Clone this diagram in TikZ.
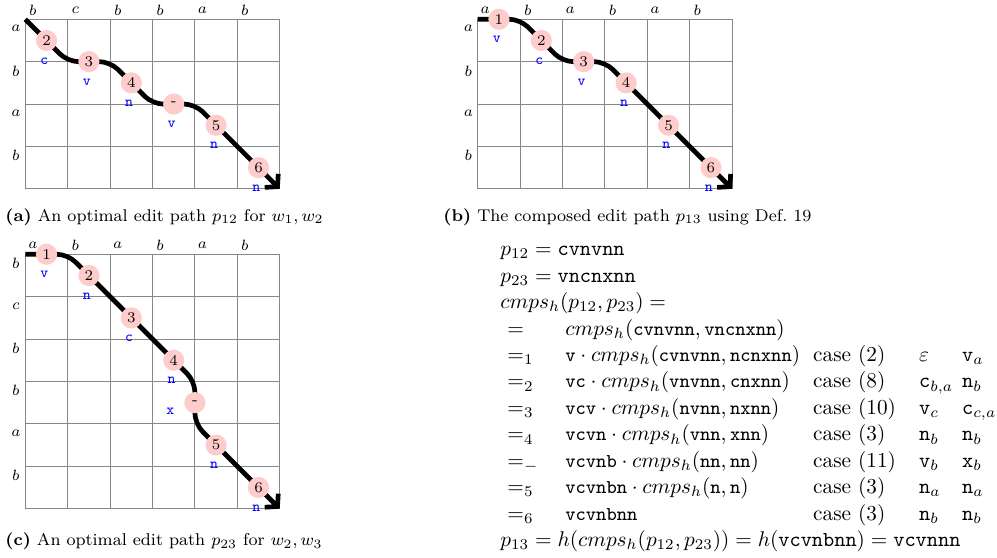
\documentclass[tikz,border=0pt]{standalone}
\usepackage{amsmath}
\usepackage{array}
\usepackage{xcolor}
\usetikzlibrary{arrows.meta, calc, positioning}
\definecolor{StepPink}{RGB}{255,204,204}
\definecolor{GridGray}{RGB}{135,135,135}
\definecolor{OpBlue}{RGB}{0,0,255}
\newcolumntype{M}[1]{>{$}p{#1}<{$}}
\newcolumntype{L}{>{$}l<{$}}
\newcommand{\cmpsh}{cmps_h}
\newcommand{\pth}[1]{\text{\fontsize{9.2}{11}\selectfont\ttfamily #1}}

\begin{document}
\begin{tikzpicture}[
    gridline/.style={GridGray, line width=0.5pt},
    axislbl/.style={font=\fontsize{7}{8}\selectfont, inner sep=0pt},
    editpath/.style={line width=2.2pt, rounded corners=5pt,
                     -{Straight Barb[length=4pt, width=9pt]}},
    stepnum/.style={circle, fill=StepPink, minimum size=0.35cm, inner sep=0pt,
                    font=\fontsize{7}{8}\selectfont},
    opname/.style={OpBlue, font=\fontsize{7}{8}\selectfont\ttfamily, inner sep=0pt},
    capt/.style={anchor=base west, inner sep=0pt, font=\fontsize{8}{9.5}\selectfont}
  ]
  \useasboundingbox (0,0) rectangle (16.46,9.212);

  % (a) edit path p12
  \begin{scope}[shift={(0.418,8.894)}, x=0.7cm, y=-0.7cm]
    \foreach \i in {0,...,6} \draw[gridline] (\i,0) -- (\i,4);
    \foreach \j in {0,...,4} \draw[gridline] (0,\j) -- (6,\j);
    \foreach \c [count=\i from 0] in {b,c,b,b,a,b}
      \node[axislbl] (a-col\i) at (\i+0.18,-0.22) {$\c$};
    \foreach \r [count=\j from 0] in {a,b,a,b}
      \node[axislbl] (a-row\j) at (-0.22,\j+0.22) {$\r$};
    \foreach \x/\y [count=\k from 0] in {0/0,1/1,2/1,3/2,4/2,5/3,6/4}
      \coordinate (a\k) at (\x,\y);
    \draw[editpath] (a0) -- (a1) -- (a2) -- (a3) -- (a4) -- (a5) -- (a6);
    \foreach \p/\q/\num/\op in {0/1/2/c, 1/2/3/v, 2/3/4/n, 3/4/-/v, 4/5/5/n, 5/6/6/n}
      \node[stepnum] (a-s\q) at ($(a\p)!0.5!(a\q)$) {\num}
        node[opname] (a-o\q) at ($(a\p)!0.5!(a\q)+(-0.05,0.48)$) {\op};
  \end{scope}

  % (b) composed path p13
  \begin{scope}[shift={(7.887,8.894)}, x=0.7cm, y=-0.7cm]
    \foreach \i in {0,...,6} \draw[gridline] (\i,0) -- (\i,4);
    \foreach \j in {0,...,4} \draw[gridline] (0,\j) -- (6,\j);
    \foreach \c [count=\i from 0] in {a,b,a,b,a,b}
      \node[axislbl] (b-col\i) at (\i+0.18,-0.22) {$\c$};
    \foreach \r [count=\j from 0] in {a,b,a,b}
      \node[axislbl] (b-row\j) at (-0.22,\j+0.22) {$\r$};
    \foreach \x/\y [count=\k from 0] in {0/0,1/0,2/1,3/1,4/2,5/3,6/4}
      \coordinate (b\k) at (\x,\y);
    \draw[editpath] (b0) -- (b1) -- (b2) -- (b3) -- (b4) -- (b5) -- (b6);
    \foreach \p/\q/\num/\op in {0/1/1/v, 1/2/2/c, 2/3/3/v, 3/4/4/n, 4/5/5/n, 5/6/6/n}
      \node[stepnum] (b-s\q) at ($(b\p)!0.5!(b\q)$) {\num}
        node[opname] (b-o\q) at ($(b\p)!0.5!(b\q)+(-0.05,0.48)$) {\op};
  \end{scope}

  % (c) edit path p23
  \begin{scope}[shift={(0.418,5.014)}, x=0.7cm, y=-0.7cm]
    \foreach \i in {0,...,6} \draw[gridline] (\i,0) -- (\i,6);
    \foreach \j in {0,...,6} \draw[gridline] (0,\j) -- (6,\j);
    \foreach \c [count=\i from 0] in {a,b,a,b,a,b}
      \node[axislbl] (c-col\i) at (\i+0.18,-0.22) {$\c$};
    \foreach \r [count=\j from 0] in {b,c,b,b,a,b}
      \node[axislbl] (c-row\j) at (-0.22,\j+0.22) {$\r$};
    \foreach \x/\y [count=\k from 0] in {0/0,1/0,2/1,3/2,4/3,4/4,5/5,6/6}
      \coordinate (c\k) at (\x,\y);
    \draw[editpath] (c0) -- (c1) -- (c2) -- (c3) -- (c4) -- (c5) -- (c6) -- (c7);
    \foreach \p/\q/\num/\op in {0/1/1/v, 1/2/2/n, 2/3/3/c, 3/4/4/n, 5/6/5/n, 6/7/6/n}
      \node[stepnum] (c-s\q) at ($(c\p)!0.5!(c\q)$) {\num}
        node[opname] (c-o\q) at ($(c\p)!0.5!(c\q)+(-0.05,0.48)$) {\op};
    % deletion step is vertical
    \node[stepnum] (c-s5) at ($(c4)!0.5!(c5)$) {-}
      node[opname] (c-o5) at ($(c4)!0.5!(c5)+(-0.58,0.2)$) {x};
  \end{scope}

  \node[capt] (cap-a) at (0.083,5.56)
    {\textbf{(a)} An optimal edit path $p_{12}$ for $w_1, w_2$};
  \node[capt] (cap-b) at (7.314,5.56)
    {\textbf{(b)} The composed edit path $p_{13}$ using Def.~19};
  \node[capt] (cap-c) at (0.083,0.2)
    {\textbf{(c)} An optimal edit path $p_{23}$ for $w_2, w_3$};

  % composition steps
  \node[anchor=base west, inner sep=0pt] (cmps) at (8.255,4.99) {%
    \renewcommand{\arraystretch}{1.035}%
    \begin{tabular}[t]{@{\hspace{3.3pt}}M{27.2pt}@{}M{116.4pt}@{}M{49.8pt}@{}M{20.2pt}@{}L@{}}
      \multicolumn{5}{@{}l@{}}{$p_{12} = \mathtt{cvnvnn}$}\\
      \multicolumn{5}{@{}l@{}}{$p_{23} = \mathtt{vncnxnn}$}\\
      \multicolumn{5}{@{}l@{}}{$\cmpsh(p_{12}, p_{23}) =$}\\
      = & \cmpsh(\pth{cvnvnn}, \pth{vncnxnn}) & & & \\
      =_1 & \pth{v}\cdot \cmpsh(\pth{cvnvnn}, \pth{ncnxnn}) & \text{case }(2) & \varepsilon & \mathtt{v}_a\\
      =_2 & \pth{vc}\cdot \cmpsh(\pth{vnvnn}, \pth{cnxnn}) & \text{case }(8) & \mathtt{c}_{b,a} & \mathtt{n}_b\\
      =_3 & \pth{vcv}\cdot \cmpsh(\pth{nvnn}, \pth{nxnn}) & \text{case }(10) & \mathtt{v}_c & \mathtt{c}_{c,a}\\
      =_4 & \pth{vcvn}\cdot \cmpsh(\pth{vnn}, \pth{xnn}) & \text{case }(3) & \mathtt{n}_b & \mathtt{n}_b\\
      =_{-} & \pth{vcvnb}\cdot \cmpsh(\pth{nn}, \pth{nn}) & \text{case }(11) & \mathtt{v}_b & \mathtt{x}_b\\
      =_5 & \pth{vcvnbn}\cdot \cmpsh(\pth{n}, \pth{n}) & \text{case }(3) & \mathtt{n}_a & \mathtt{n}_a\\
      =_6 & \pth{vcvnbnn} & \text{case }(3) & \mathtt{n}_b & \mathtt{n}_b\\
      \multicolumn{5}{@{}l@{}}{$p_{13} = h(\cmpsh(p_{12}, p_{23})) = h(\mathtt{vcvnbnn}) = \mathtt{vcvnnn}$}
    \end{tabular}};
\end{tikzpicture}
\end{document}
